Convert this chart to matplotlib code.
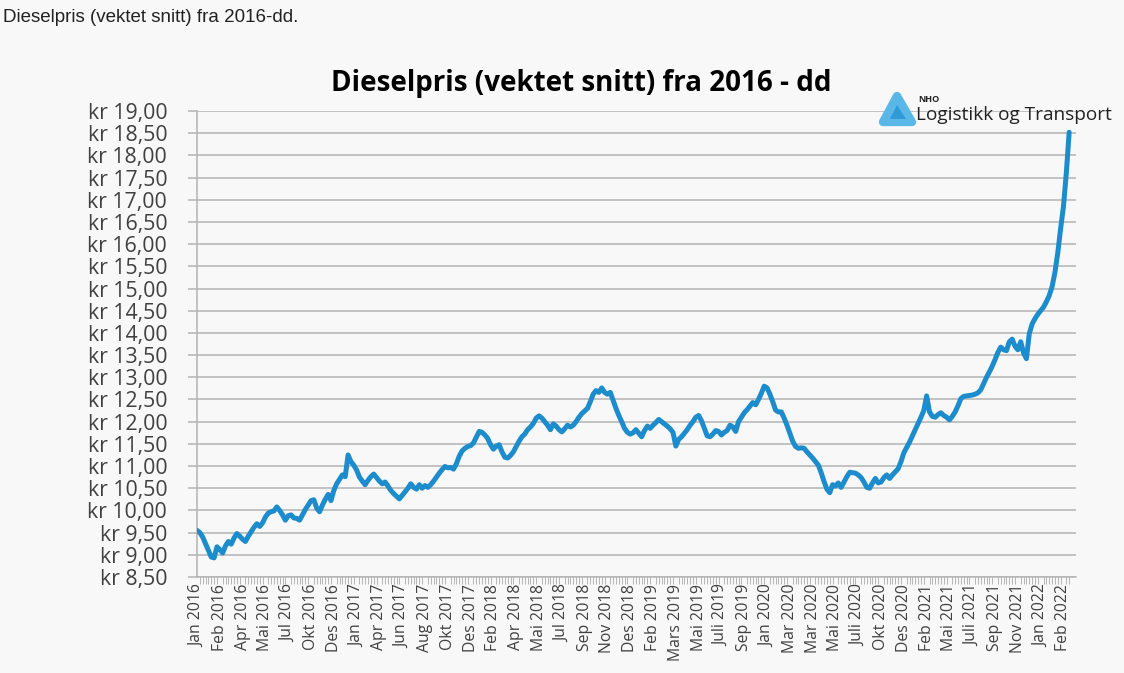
import matplotlib.pyplot as plt
from matplotlib.patches import Polygon
from matplotlib.ticker import FuncFormatter

# weekly weighted diesel price
prices = [
    9.55, 9.50, 9.40, 9.25, 9.10, 8.95, 8.93, 9.18, 9.12, 9.04,
    9.20, 9.30, 9.24, 9.38, 9.48, 9.42, 9.35, 9.30, 9.42, 9.52,
    9.62, 9.70, 9.64, 9.72, 9.85, 9.94, 9.97, 9.99, 10.08, 10.00,
    9.90, 9.78, 9.88, 9.90, 9.83, 9.82, 9.78, 9.90, 10.02, 10.12,
    10.22, 10.24, 10.05, 9.97, 10.12, 10.25, 10.36, 10.22, 10.45, 10.60,
    10.70, 10.80, 10.76, 11.25, 11.10, 11.02, 10.91, 10.75, 10.66, 10.58,
    10.68, 10.76, 10.82, 10.74, 10.66, 10.60, 10.64, 10.55, 10.45, 10.38,
    10.32, 10.26, 10.34, 10.42, 10.50, 10.60, 10.52, 10.48, 10.58, 10.50,
    10.56, 10.52, 10.58, 10.66, 10.75, 10.84, 10.92, 10.99, 10.96, 10.97,
    10.93, 11.05, 11.22, 11.34, 11.40, 11.44, 11.46, 11.52, 11.65, 11.78,
    11.76, 11.70, 11.62, 11.48, 11.38, 11.45, 11.48, 11.32, 11.20, 11.18,
    11.24, 11.32, 11.44, 11.56, 11.66, 11.72, 11.82, 11.88, 11.96, 12.08,
    12.13, 12.08, 12.00, 11.92, 11.82, 11.95, 11.90, 11.82, 11.77, 11.84,
    11.92, 11.88, 11.92, 12.00, 12.10, 12.18, 12.24, 12.30, 12.45, 12.62,
    12.70, 12.66, 12.76, 12.66, 12.62, 12.66, 12.48, 12.30, 12.14, 12.00,
    11.85, 11.76, 11.72, 11.75, 11.82, 11.74, 11.66, 11.80, 11.90, 11.85,
    11.92, 11.98, 12.05, 12.00, 11.95, 11.90, 11.84, 11.76, 11.45, 11.60,
    11.66, 11.74, 11.82, 11.92, 12.00, 12.10, 12.14, 12.02, 11.85, 11.68,
    11.66, 11.72, 11.80, 11.78, 11.70, 11.76, 11.80, 11.92, 11.88, 11.78,
    12.00, 12.10, 12.20, 12.27, 12.35, 12.43, 12.38, 12.50, 12.64, 12.80,
    12.76, 12.62, 12.45, 12.26, 12.22, 12.22, 12.08, 11.92, 11.74, 11.56,
    11.44, 11.40, 11.41, 11.40, 11.32, 11.25, 11.18, 11.10, 11.02, 10.85,
    10.65, 10.48, 10.40, 10.58, 10.55, 10.62, 10.52, 10.64, 10.76, 10.86,
    10.85, 10.84, 10.80, 10.74, 10.64, 10.52, 10.50, 10.62, 10.72, 10.62,
    10.64, 10.74, 10.80, 10.72, 10.80, 10.87, 10.94, 11.10, 11.30, 11.42,
    11.54, 11.68, 11.82, 11.96, 12.10, 12.25, 12.58, 12.22, 12.12, 12.10,
    12.16, 12.20, 12.14, 12.10, 12.04, 12.12, 12.22, 12.36, 12.52, 12.57,
    12.58, 12.59, 12.60, 12.62, 12.65, 12.72, 12.86, 13.00, 13.12, 13.25,
    13.40, 13.56, 13.68, 13.62, 13.60, 13.80, 13.86, 13.70, 13.62, 13.80,
    13.55, 13.42, 13.98, 14.20, 14.32, 14.42, 14.50, 14.58, 14.70, 14.84,
    15.04, 15.36, 15.80, 16.35, 16.85, 17.60, 18.52,
]

# category labels, one every 8th week
tick_labels = [
    "Jan 2016", "Feb 2016", "Apr 2016", "Mai 2016", "Jul 2016", "Okt 2016", "Des 2016",
    "Jan 2017", "Apr 2017", "Jun 2017", "Aug 2017", "Okt 2017", "Des 2017",
    "Feb 2018", "Apr 2018", "Mai 2018", "Jul 2018", "Sep 2018", "Nov 2018", "Des 2018",
    "Feb 2019", "Mars 2019", "Mai 2019", "Juli 2019", "Sep 2019",
    "Jan 2020", "Mar 2020", "Mar 2020", "Mai 2020", "Juli 2020", "Okt 2020", "Des 2020",
    "Feb 2021", "Mai 2021", "Juli 2021", "Sep 2021", "Nov 2021",
    "Jan 2022", "Feb 2022",
]
label_step = 8

bg = "#f8f8f8"
grid_col = "#b4b4b4"
text_col = "#404040"
line_col = "#1d8ccc"
font = "Open Sans"

fig = plt.figure(figsize=(11.24, 6.73), dpi=100, facecolor=bg)
ax = fig.add_axes([197 / 1124, 96 / 673, 879 / 1124, 466 / 673], facecolor=bg)

x = list(range(len(prices)))
ax.plot(x, prices, color=line_col, lw=3.6, solid_joinstyle="round", solid_capstyle="round", zorder=3)

ax.set_xlim(0, 308.4)
ax.set_ylim(8.5, 19.0)
ax.set_yticks([8.5 + 0.5 * i for i in range(22)])
ax.yaxis.set_major_formatter(FuncFormatter(lambda v, p: ("kr %.2f" % v).replace(".", ",")))
ax.grid(axis="y", color=grid_col, lw=1.1)
ax.set_axisbelow(True)

ax.set_xticks([i * label_step for i in range(len(tick_labels))])
ax.set_xticklabels(tick_labels, rotation=90, fontsize=11.3, color=text_col, family=font)
ax.set_xticks(x, minor=True)
ax.tick_params(axis="x", which="major", length=0, pad=5)
ax.tick_params(axis="x", which="minor", length=5, width=0.7, color=grid_col)
ax.tick_params(axis="y", length=6.5, width=1.1, color=grid_col, pad=15)
for lab in ax.get_yticklabels():
    lab.set_fontsize(15.3)
    lab.set_color(text_col)
    lab.set_family(font)

for side in ["top", "right"]:
    ax.spines[side].set_visible(False)
for side in ["left", "bottom"]:
    ax.spines[side].set_color(grid_col)
    ax.spines[side].set_linewidth(1.1)

# page heading and chart title
fig.text(3 / 1124, 1 - 17 / 673, "Dieselpris (vektet snitt) fra 2016-dd.", fontsize=13.5,
         family="Liberation Sans", color="#222222", va="center", ha="left")
fig.text(581 / 1124, 1 - 83 / 673, "Dieselpris (vektet snitt) fra 2016 - dd", fontsize=20,
         family=font, weight="bold", color="black", va="center", ha="center")

# NHO logo
tri = Polygon([(883 / 1124, 1 - 122 / 673), (912 / 1124, 1 - 122 / 673), (897 / 1124, 1 - 96 / 673)],
              closed=True, transform=fig.transFigure, facecolor="#5ab8e8", edgecolor="#5ab8e8",
              lw=6, joinstyle="round")
fig.patches.append(tri)
inner = Polygon([(890 / 1124, 1 - 119 / 673), (906 / 1124, 1 - 119 / 673), (897 / 1124, 1 - 105 / 673)],
                closed=True, transform=fig.transFigure, facecolor="#2f9ad6", edgecolor="none")
fig.patches.append(inner)
fig.text(918 / 1124, 1 - 100 / 673, "NHO", fontsize=6.5, family=font, weight="bold",
         color="#222222", va="center", ha="left")
fig.text(916 / 1124, 1 - 115 / 673, "Logistikk og Transport", fontsize=13.7, family=font,
         color="#222222", va="center", ha="left")

fig.savefig("out.png", dpi=100, facecolor=bg)
